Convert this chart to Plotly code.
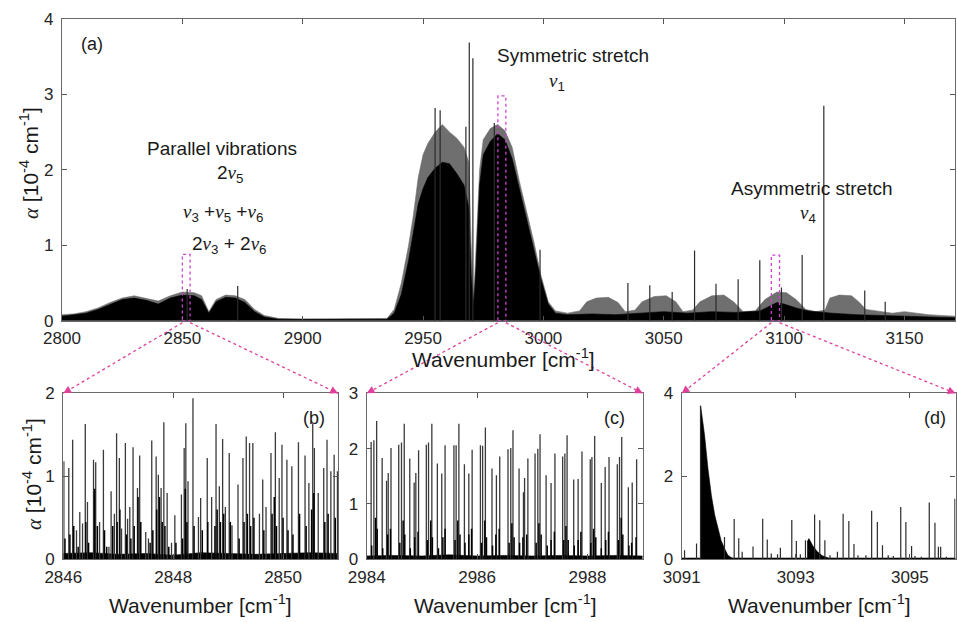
import plotly.graph_objects as go

W, H = 957, 622

# ---------------- data ----------------
# Panel (a): envelopes of the survey spectrum
a_gray_x = [2800, 2805, 2810, 2815, 2820, 2825, 2830, 2835, 2840, 2845, 2850, 2855, 2858, 2861,
            2864, 2868, 2872, 2876, 2880, 2884, 2890, 2900, 2920, 2935, 2938, 2941, 2944, 2946,
            2948, 2950, 2952, 2955, 2958, 2961, 2964, 2967, 2969, 2970, 2971, 2972, 2973.5, 2975,
            2978, 2981, 2984, 2987, 2990, 2993, 2996, 2999, 3002, 3005, 3010, 3015, 3018, 3022,
            3027, 3031, 3034, 3038, 3041, 3046, 3051, 3055, 3058, 3062, 3065, 3070, 3075, 3079,
            3083, 3088, 3092, 3097, 3101, 3105, 3109, 3113, 3117, 3119, 3123, 3128, 3131, 3134,
            3140, 3145, 3150, 3155, 3160, 3165, 3171]
a_gray_y = [0.08, 0.09, 0.12, 0.17, 0.24, 0.30, 0.33, 0.30, 0.26, 0.33, 0.38, 0.37, 0.33, 0.12,
            0.28, 0.34, 0.33, 0.28, 0.15, 0.07, 0.03, 0.02, 0.02, 0.03, 0.15, 0.50, 1.00, 1.40,
            1.90, 2.20, 2.35, 2.50, 2.60, 2.50, 2.42, 2.30, 2.10, 1.00, 0.25, 0.90, 2.00, 2.40,
            2.55, 2.60, 2.52, 2.30, 1.85, 1.45, 1.05, 0.60, 0.25, 0.13, 0.10, 0.13, 0.25, 0.30,
            0.31, 0.24, 0.12, 0.14, 0.25, 0.32, 0.33, 0.25, 0.12, 0.14, 0.25, 0.33, 0.34, 0.25,
            0.12, 0.13, 0.28, 0.38, 0.37, 0.28, 0.15, 0.12, 0.14, 0.30, 0.34, 0.33, 0.25, 0.15,
            0.12, 0.10, 0.12, 0.10, 0.08, 0.07, 0.06]
a_black_x = [2800, 2810, 2815, 2820, 2825, 2830, 2835, 2840, 2845, 2850, 2855, 2858, 2861, 2864,
             2868, 2872, 2876, 2880, 2884, 2890, 2935, 2938, 2941, 2944, 2946, 2948, 2950, 2952,
             2955, 2958, 2961, 2964, 2967, 2969, 2970, 2971, 2972, 2973.5, 2975, 2978, 2981, 2984,
             2987, 2990, 2993, 2996, 2999, 3002, 3005, 3010, 3020, 3030, 3040, 3050, 3060, 3070,
             3080, 3090, 3097, 3100, 3105, 3110, 3120, 3130, 3140, 3150, 3160, 3171]
a_black_y = [0.06, 0.10, 0.15, 0.22, 0.28, 0.30, 0.27, 0.22, 0.30, 0.34, 0.33, 0.28, 0.10, 0.25,
             0.31, 0.30, 0.24, 0.12, 0.05, 0.02, 0.02, 0.10, 0.35, 0.80, 1.20, 1.55, 1.75, 1.90,
             2.02, 2.10, 2.08, 1.95, 1.80, 1.50, 0.60, 0.20, 0.70, 1.80, 2.20, 2.38, 2.48, 2.40,
             2.15, 1.75, 1.35, 0.95, 0.55, 0.22, 0.10, 0.08, 0.09, 0.08, 0.10, 0.12, 0.10, 0.12,
             0.11, 0.13, 0.24, 0.22, 0.17, 0.13, 0.10, 0.08, 0.07, 0.06, 0.05, 0.04]
a_line_pos = [2852.0, 2873.0, 2955.0, 2957.1, 2967.8, 2969.2, 2970.7, 2979.6, 2998.6, 3035.1,
              3044.2, 3053.5, 3062.8, 3071.7, 3080.9, 3089.9, 3098.9, 3107.5, 3116.5, 3133.5, 3142.0]
a_line_hts = [0.42, 0.46, 2.82, 2.79, 2.57, 3.69, 3.48, 2.62, 0.94, 0.50,
              0.47, 0.38, 0.93, 0.49, 0.55, 0.80, 0.44, 0.87, 2.85, 0.40, 0.25]

# Panel (b)
b_pos = [2846.01, 2846.10, 2846.17, 2846.24, 2846.30, 2846.35, 2846.40, 2846.44, 2846.55, 2846.59,
         2846.66, 2846.73, 2846.83, 2846.87, 2846.93, 2846.97, 2847.02, 2847.06, 2847.13, 2847.17,
         2847.21, 2847.27, 2847.35, 2847.39, 2847.50, 2847.55, 2847.61, 2847.69, 2847.73, 2847.78,
         2847.83, 2847.89, 2847.97, 2848.03, 2848.15, 2848.20, 2848.23, 2848.27, 2848.36, 2848.46,
         2848.50, 2848.62, 2848.70, 2848.78, 2848.84, 2848.90, 2848.95, 2849.02, 2849.07, 2849.18,
         2849.27, 2849.33, 2849.39, 2849.45, 2849.57, 2849.63, 2849.69, 2849.78, 2849.86, 2849.93,
         2849.98, 2850.07, 2850.16, 2850.28, 2850.40, 2850.47, 2850.54, 2850.57, 2850.64, 2850.74,
         2850.80, 2850.87, 2850.93, 2850.99]
b_hts = [1.18, 1.10, 1.44, 0.35, 0.57, 0.43, 1.63, 0.69, 1.20, 1.17,
         0.45, 1.32, 0.15, 0.82, 0.55, 1.52, 1.22, 0.37, 1.40, 0.49,
         0.63, 1.35, 0.86, 1.25, 0.33, 0.25, 1.43, 1.24, 1.02, 0.86,
         1.65, 0.80, 0.20, 0.53, 0.78, 1.34, 1.64, 0.94, 1.94, 0.51,
         0.74, 1.22, 0.75, 1.63, 0.88, 1.45, 0.63, 1.28, 0.41, 0.90,
         1.22, 1.48, 1.40, 1.40, 0.55, 0.96, 0.63, 1.28, 1.53, 0.98,
         1.38, 1.20, 1.12, 1.41, 1.25, 0.92, 1.64, 1.34, 0.80, 1.10,
         1.44, 1.06, 1.26, 1.06]
b_weak_pos = [2846.03, 2846.12, 2846.19, 2846.27, 2846.41, 2846.46, 2846.57, 2846.62, 2846.75, 2846.79,
              2846.90, 2846.98, 2847.03, 2847.15, 2847.23, 2847.29, 2847.36, 2847.41, 2847.58, 2847.63,
              2847.70, 2847.75, 2847.80, 2847.85, 2847.92, 2848.05, 2848.17, 2848.22, 2848.25, 2848.38,
              2848.53, 2848.63, 2848.76, 2848.80, 2848.86, 2848.92, 2849.04, 2849.20, 2849.29, 2849.35,
              2849.41, 2849.47, 2849.65, 2849.80, 2849.84, 2849.88, 2850.00, 2850.09, 2850.18, 2850.30,
              2850.42, 2850.52, 2850.56, 2850.76, 2850.82, 2850.95]
b_weak_hts = [0.25, 0.30, 0.40, 0.15, 0.45, 0.20, 0.85, 0.40, 0.35, 0.15,
              0.40, 0.45, 0.60, 0.30, 0.25, 0.40, 0.75, 0.45, 0.20, 0.35,
              0.60, 0.75, 0.45, 0.40, 0.15, 0.20, 0.25, 0.85, 0.45, 0.40,
              0.35, 0.45, 0.40, 0.60, 0.45, 0.55, 0.45, 0.25, 0.45, 0.55,
              0.40, 0.50, 0.35, 0.55, 0.75, 0.40, 0.50, 0.35, 0.30, 0.55,
              0.40, 0.60, 0.80, 0.45, 0.55, 0.50]
b_base_x = [2846.0, 2846.5, 2847.0, 2847.5, 2848.0, 2848.5, 2849.0, 2849.5, 2850.0, 2850.5, 2851.0]
b_base_y = [0.07, 0.08, 0.06, 0.07, 0.05, 0.08, 0.07, 0.06, 0.07, 0.08, 0.07]

# Panel (c)
c_pos = [2984.08, 2984.13, 2984.18, 2984.28, 2984.36, 2984.39, 2984.44, 2984.58, 2984.63, 2984.68,
         2984.78, 2984.86, 2984.89, 2984.94, 2985.08, 2985.12, 2985.18, 2985.28, 2985.36, 2985.42,
         2985.58, 2985.62, 2985.67, 2985.77, 2985.85, 2985.91, 2986.06, 2986.10, 2986.15, 2986.27,
         2986.35, 2986.41, 2986.56, 2986.61, 2986.65, 2986.76, 2986.84, 2986.86, 2986.92, 2987.05,
         2987.10, 2987.14, 2987.25, 2987.34, 2987.41, 2987.55, 2987.59, 2987.63, 2987.75, 2987.83,
         2987.90, 2988.05, 2988.08, 2988.13, 2988.25, 2988.32, 2988.39, 2988.54, 2988.58, 2988.62,
         2988.74, 2988.81, 2988.89]
c_hts = [2.12, 2.15, 2.50, 1.83, 1.42, 1.56, 2.01, 2.07, 2.11, 2.45,
         1.82, 1.39, 1.56, 1.97, 2.07, 2.11, 2.45, 1.73, 1.55, 2.06,
         2.06, 2.06, 2.45, 1.72, 1.55, 1.98, 2.06, 2.05, 2.38, 1.64,
         1.52, 1.86, 1.99, 2.01, 2.33, 1.64, 1.21, 1.47, 1.82, 1.91,
         2.00, 2.26, 1.52, 1.38, 1.91, 1.86, 1.91, 2.24, 1.44, 1.45,
         1.95, 1.81, 1.85, 2.23, 1.38, 1.67, 1.85, 1.72, 1.85, 2.21,
         1.30, 1.39, 1.81]
c_weak_pos = [2984.09, 2984.16, 2984.19, 2984.29, 2984.38, 2984.43, 2984.60, 2984.66, 2984.69, 2984.79,
              2984.87, 2984.93, 2985.10, 2985.16, 2985.19, 2985.30, 2985.38, 2985.42, 2985.60, 2985.65,
              2985.69, 2985.78, 2985.85, 2985.90, 2986.08, 2986.14, 2986.17, 2986.28, 2986.34, 2986.40,
              2986.58, 2986.63, 2986.67, 2986.77, 2986.83, 2986.90, 2987.07, 2987.12, 2987.16, 2987.27,
              2987.34, 2987.40, 2987.57, 2987.61, 2987.65, 2987.76, 2987.83, 2987.88, 2988.06, 2988.11,
              2988.15, 2988.25, 2988.33, 2988.38, 2988.56, 2988.61, 2988.64, 2988.75, 2988.80, 2988.88]
c_weak_hts = [0.25, 0.75, 0.55, 0.20, 0.45, 0.55, 0.30, 0.70, 0.45, 0.20,
              0.40, 0.50, 0.35, 0.70, 0.40, 0.20, 0.40, 0.55, 0.35, 0.70,
              0.45, 0.30, 0.45, 0.55, 0.30, 0.70, 0.40, 0.25, 0.45, 0.55,
              0.30, 0.65, 0.40, 0.30, 0.40, 0.45, 0.30, 0.65, 0.45, 0.25,
              0.35, 0.50, 0.35, 0.60, 0.35, 0.25, 0.35, 0.50, 0.30, 0.55,
              0.40, 0.20, 0.35, 0.50, 0.35, 0.75, 0.45, 0.25, 0.30, 0.40]
c_base_x = [2984.0, 2984.5, 2985.0, 2985.5, 2986.0, 2986.5, 2987.0, 2987.5, 2988.0, 2988.5, 2989.0]
c_base_y = [0.06, 0.07, 0.06, 0.08, 0.06, 0.07, 0.06, 0.07, 0.06, 0.07, 0.06]

# Panel (d)
d_pos = [3091.05, 3091.26, 3091.33, 3091.75, 3091.92, 3092.00, 3092.06, 3092.25, 3092.42, 3092.50,
         3092.57, 3092.68, 3092.73, 3092.93, 3093.01, 3093.08, 3093.17, 3093.33, 3093.42, 3093.51,
         3093.60, 3093.73, 3093.83, 3093.93, 3094.02, 3094.09, 3094.23, 3094.33, 3094.43, 3094.52,
         3094.62, 3094.71, 3094.84, 3094.93, 3095.03, 3095.09, 3095.20, 3095.34, 3095.44, 3095.50,
         3095.54, 3095.64, 3095.79]
d_hts = [0.22, 0.38, 3.70, 0.54, 0.97, 0.51, 0.18, 0.31, 0.98, 0.48,
         0.14, 0.12, 0.28, 0.95, 0.44, 0.12, 0.46, 1.08, 0.94, 0.46,
         0.10, 0.18, 1.10, 0.92, 0.37, 0.10, 0.10, 1.17, 0.90, 0.34,
         0.10, 0.08, 1.26, 0.90, 0.32, 0.08, 0.06, 1.37, 0.88, 0.30,
         0.30, 0.06, 1.46]
d_tail1_x = [3091.332, 3091.36, 3091.40, 3091.46, 3091.52, 3091.58, 3091.64, 3091.69, 3091.75,
             3091.81, 3091.87, 3091.95]
d_tail1_y = [3.70, 3.45, 3.00, 2.19, 1.54, 1.06, 0.74, 0.46, 0.26, 0.10, 0.04, 0.00]
d_tail2_x = [3093.20, 3093.23, 3093.30, 3093.38, 3093.46, 3093.55, 3093.62]
d_tail2_y = [0.42, 0.50, 0.32, 0.18, 0.09, 0.04, 0.00]
d_base_x = [3091.0, 3092.0, 3093.0, 3094.0, 3095.0, 3095.8]
d_base_y = [0.03, 0.03, 0.03, 0.03, 0.03, 0.03]

# axis ranges and ticks
a_range, b_range, c_range, d_range = [2800, 3171], [2846, 2851], [2984, 2989], [3091, 3095.8]
a_yrange, b_yrange, c_yrange, d_yrange = [0, 4], [0, 2], [0, 3], [0, 4]
a_xticks = [2800, 2850, 2900, 2950, 3000, 3050, 3100, 3150]
b_xticks, c_xticks, d_xticks = [2846, 2848, 2850], [2984, 2986, 2988], [3091, 3093, 3095]
a_yticks, b_yticks, c_yticks, d_yticks = [0, 1, 2, 3, 4], [0, 1, 2], [0, 1, 2, 3], [0, 2, 4]

# zoom boxes in panel (a): x0, x1, top
boxes = [(2850.0, 2853.2, 0.88), (2981.1, 2984.4, 2.98), (3094.7, 3098.1, 0.87)]

# ---------------- layout geometry (pixels) ----------------
def px(x):
    return x / W

def py(y):
    return 1 - y / H

dom_a = ([px(62), px(955)], [py(320.7), py(19)])
dom_b = ([px(63.3), px(338)], [py(559.3), py(393.3)])
dom_c = ([px(366.7), px(642.7)], [py(559.3), py(393.3)])
dom_d = ([px(681.7), px(955.5)], [py(559.3), py(393.3)])

def sticks(pos, hts):
    xs, ys = [], []
    for p, h in zip(pos, hts):
        xs += [p, p, None]
        ys += [0, h, None]
    return xs, ys

fig = go.Figure()

def add_fill(x, y, color, ax):
    fig.add_trace(go.Scatter(x=x, y=y, mode='lines', fill='tozeroy', fillcolor=color,
                             line=dict(color=color, width=0.6), xaxis='x' + ax, yaxis='y' + ax,
                             hoverinfo='skip', showlegend=False))

def add_sticks(pos, hts, color, width, ax):
    xs, ys = sticks(pos, hts)
    fig.add_trace(go.Scatter(x=xs, y=ys, mode='lines', line=dict(color=color, width=width),
                             xaxis='x' + ax, yaxis='y' + ax, hoverinfo='skip', showlegend=False))

# panel a
add_fill(a_gray_x, a_gray_y, '#6f6f6f', '')
add_fill(a_black_x, a_black_y, '#000000', '')
add_sticks(a_line_pos, a_line_hts, '#2b2b2b', 1.2, '')
# panel b
add_fill(b_base_x, b_base_y, '#000000', '2')
add_sticks(b_pos, b_hts, '#3a3a3a', 1.3, '2')
add_sticks(b_weak_pos, b_weak_hts, '#000000', 1.5, '2')
# panel c
add_fill(c_base_x, c_base_y, '#000000', '3')
add_sticks(c_pos, c_hts, '#3a3a3a', 1.3, '3')
add_sticks(c_weak_pos, c_weak_hts, '#000000', 1.5, '3')
# panel d
add_fill(d_base_x, d_base_y, '#000000', '4')
add_fill(d_tail1_x, d_tail1_y, '#000000', '4')
add_fill(d_tail2_x, d_tail2_y, '#000000', '4')
add_sticks(d_pos, d_hts, '#2b2b2b', 1.2, '4')

tickfont = dict(family='Liberation Sans, Arial, sans-serif', size=17, color='#262626')

def xax(dom, rng, ticks, anchor):
    return dict(domain=dom, range=rng, tickvals=ticks, ticks='inside', ticklen=5, tickcolor='#555',
                showline=True, linecolor='#6a6a6a', linewidth=1.2, mirror='ticks', showgrid=False,
                zeroline=False, tickfont=tickfont, anchor=anchor, ticklabelstandoff=2,
                automargin=False)

def yax(dom, rng, ticks, anchor):
    return dict(domain=dom, range=rng, tickvals=ticks, ticks='inside', ticklen=5, tickcolor='#555',
                showline=True, linecolor='#6a6a6a', linewidth=1.2, mirror='ticks', showgrid=False,
                zeroline=False, tickfont=tickfont, anchor=anchor, ticklabelstandoff=4,
                automargin=False)

layout = dict(width=W, height=H, margin=dict(l=0, r=0, t=0, b=0, pad=0), autosize=False,
              template='none',
              paper_bgcolor='white', plot_bgcolor='white', showlegend=False,
              xaxis=xax(dom_a[0], a_range, a_xticks, 'y'), yaxis=yax(dom_a[1], a_yrange, a_yticks, 'x'),
              xaxis2=xax(dom_b[0], b_range, b_xticks, 'y2'), yaxis2=yax(dom_b[1], b_yrange, b_yticks, 'x2'),
              xaxis3=xax(dom_c[0], c_range, c_xticks, 'y3'), yaxis3=yax(dom_c[1], c_yrange, c_yticks, 'x3'),
              xaxis4=xax(dom_d[0], d_range, d_xticks, 'y4'), yaxis4=yax(dom_d[1], d_yrange, d_yticks, 'x4'))
fig.update_layout(**layout)

FONT = 'Liberation Sans, Arial, sans-serif'
NU = "<span style=\"font-family:'Liberation Serif',serif\"><i>ν</i></span>"

annos = []
def text(x, y, s, size=19, angle=0):
    annos.append(dict(x=px(x), y=py(y), xref='paper', yref='paper', text=s, showarrow=False,
                      font=dict(family=FONT, size=size, color='#1a1a1a'), textangle=angle,
                      xanchor='center', yanchor='middle'))

ylab = "<span style=\"font-family:'Liberation Serif',serif\"><i>α</i></span> [10<sup>-4</sup> cm<sup>-1</sup>]"
xlab = "Wavenumber [cm<sup>-1</sup>]"

text(92, 44, '(a)', 18)
text(222, 149, 'Parallel vibrations')
text(230, 174, '2' + NU + '<sub>5</sub>')
text(223, 213, NU + '<sub>3</sub> +' + NU + '<sub>5</sub> +' + NU + '<sub>6</sub>')
text(229, 245, '2' + NU + '<sub>3</sub> + 2' + NU + '<sub>6</sub>')
text(573, 56, 'Symmetric stretch')
text(557, 82, NU + '<sub>1</sub>')
text(812, 188, 'Asymmetric stretch')
text(808, 214, NU + '<sub>4</sub>')
text(314, 418, '(b)', 18)
text(614, 418, '(c)', 18)
text(935, 418, '(d)', 18)
text(30, 163, ylab, 21, -90)
text(32, 474, ylab, 21, -90)
text(503, 358, xlab, 21)
text(200, 604, xlab, 21)
text(505, 604, xlab, 21)
text(819, 604, xlab, 21)

# zoom boxes and dashed arrows
shapes = []
def data_to_px_x(w):
    d0, d1 = dom_a[0]
    return (d0 + (w - a_range[0]) / (a_range[1] - a_range[0]) * (d1 - d0)) * W

targets = [dom_b[0], dom_c[0], dom_d[0]]
top_y = dom_b[1][1]
for (x0, x1, top), tgt in zip(boxes, targets):
    shapes.append(dict(type='rect', xref='x', yref='y', x0=x0, x1=x1, y0=0, y1=top,
                       line=dict(color='#d040d0', width=1.3, dash='dot'), layer='above'))
    start_y = (1 - dom_a[1][0]) * H + 2
    for xs_data, xe in ((x0, tgt[0]), (x1, tgt[1])):
        sx = data_to_px_x(xs_data)
        ex = xe * W
        ey = (1 - top_y) * H
        shapes.append(dict(type='line', xref='paper', yref='paper', x0=px(sx), y0=py(start_y),
                           x1=px(ex), y1=py(ey), line=dict(color='#e0409a', width=1.3, dash='dot'),
                           layer='above'))
        dx, dy = sx - ex, start_y - ey
        n = (dx * dx + dy * dy) ** 0.5
        annos.append(dict(x=px(ex), y=py(ey), xref='paper', yref='paper', text='', showarrow=True,
                          arrowhead=2, arrowsize=1.2, arrowwidth=1.3, arrowcolor='#e0409a',
                          ax=dx / n * 9, ay=dy / n * 9, standoff=0))

fig.update_layout(annotations=annos, shapes=shapes)
fig.write_html('out.html', config={'displayModeBar': False},
               post_script="document.body.style.margin='0px';document.body.style.padding='0px';")
